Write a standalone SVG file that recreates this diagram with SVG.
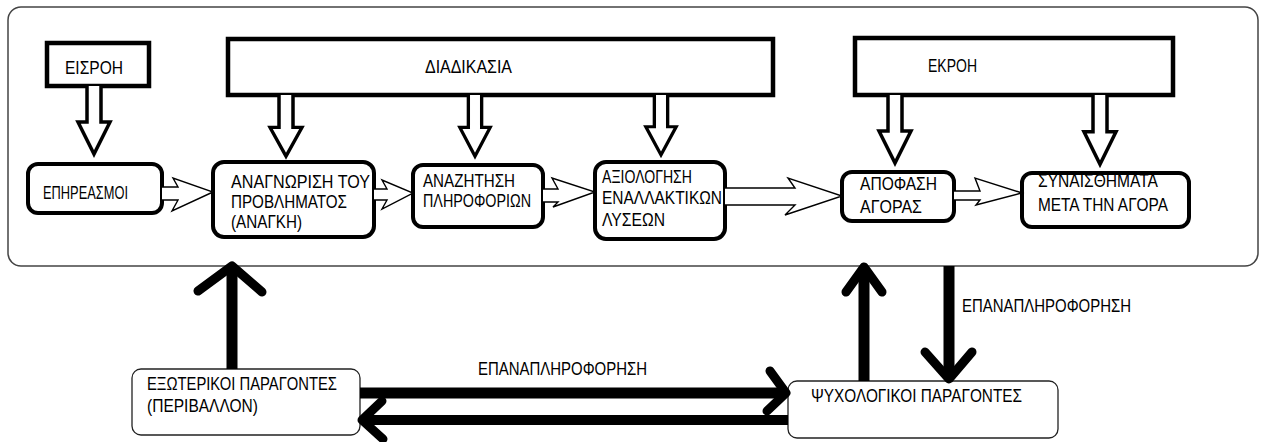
<svg xmlns="http://www.w3.org/2000/svg" width="1265" height="442" viewBox="0 0 1265 442">
  <style>
    text { font-family: "Liberation Sans", Arial, sans-serif; font-size: 18px; fill: #000; }
    .frame { fill: #fff; stroke: #444; stroke-width: 1.5; }
    .head { fill: #fff; stroke: #000; stroke-width: 4.5; }
    .step { fill: #fff; stroke: #000; stroke-width: 4; }
    .factor { fill: #fff; stroke: #222; stroke-width: 1.3; }
    .hollow { fill: #fff; stroke: #000; stroke-width: 3.5; stroke-linejoin: miter; }
    .thin { fill: #fff; stroke: #000; stroke-width: 1.4; stroke-linejoin: miter; }
    .bar { stroke: #000; stroke-width: 11; fill: none; }
    .tip { stroke: #000; stroke-width: 9; fill: none; stroke-linecap: round; stroke-linejoin: round; }
  </style>
  <defs>
    <!-- hollow down arrow: shaft 14 wide, head 32 wide -->
    <path id="dn" d="M-7,0 V36 H-16 L0,68 L16,36 H7 V0"/>
  </defs>

  <rect width="1265" height="442" fill="#fff"/>

  <!-- enclosing process frame -->
  <rect id="frame" class="frame" x="8" y="7" width="1250" height="259" rx="13"/>

  <!-- header boxes -->
  <g id="input">
    <rect class="head" x="47" y="43" width="102" height="43"/>
    <text x="65" y="74" textLength="58" lengthAdjust="spacingAndGlyphs">ΕΙΣΡΟΗ</text>
  </g>
  <g id="process">
    <rect class="head" x="228" y="39" width="545" height="56"/>
    <text x="425" y="73" textLength="87" lengthAdjust="spacingAndGlyphs">ΔΙΑΔΙΚΑΣΙΑ</text>
  </g>
  <g id="output">
    <rect class="head" x="855" y="38" width="318" height="57"/>
    <text x="928" y="72" textLength="49" lengthAdjust="spacingAndGlyphs">ΕΚΡΟΗ</text>
  </g>

  <!-- process steps -->
  <g id="influences">
    <rect class="step" x="28" y="164" width="134" height="49" rx="10"/>
    <text x="43" y="199" textLength="85" lengthAdjust="spacingAndGlyphs">ΕΠΗΡΕΑΣΜΟΙ</text>
  </g>
  <g id="recognition">
    <rect class="step" x="213" y="162" width="161" height="75" rx="11"/>
    <text x="231" y="188" textLength="139" lengthAdjust="spacingAndGlyphs">ΑΝΑΓΝΩΡΙΣΗ ΤΟΥ</text>
    <text x="231" y="208" textLength="116" lengthAdjust="spacingAndGlyphs">ΠΡΟΒΛΗΜΑΤΟΣ</text>
    <text x="231" y="228" textLength="71" lengthAdjust="spacingAndGlyphs">(ΑΝΑΓΚΗ)</text>
  </g>
  <g id="search">
    <rect class="step" x="413" y="165" width="130" height="62" rx="10"/>
    <text x="423" y="187" textLength="92" lengthAdjust="spacingAndGlyphs">ΑΝΑΖΗΤΗΣΗ</text>
    <text x="423" y="207" textLength="108" lengthAdjust="spacingAndGlyphs">ΠΛΗΡΟΦΟΡΙΩΝ</text>
  </g>
  <g id="evaluation">
    <rect class="step" x="595" y="162" width="130" height="77" rx="11"/>
    <text x="602" y="183" textLength="90" lengthAdjust="spacingAndGlyphs">ΑΞΙΟΛΟΓΗΣΗ</text>
    <text x="602" y="204" textLength="120" lengthAdjust="spacingAndGlyphs">ΕΝΑΛΛΑΚΤΙΚΩΝ</text>
    <text x="602" y="226" textLength="63" lengthAdjust="spacingAndGlyphs">ΛΥΣΕΩΝ</text>
  </g>
  <g id="decision">
    <rect class="step" x="842" y="172" width="112" height="49" rx="10"/>
    <text x="860" y="190" textLength="77" lengthAdjust="spacingAndGlyphs">ΑΠΟΦΑΣΗ</text>
    <text x="860" y="213" textLength="62" lengthAdjust="spacingAndGlyphs">ΑΓΟΡΑΣ</text>
  </g>
  <g id="feelings">
    <rect class="step" x="1022" y="173" width="167" height="54" rx="10"/>
    <text x="1038" y="187" textLength="120" lengthAdjust="spacingAndGlyphs">ΣΥΝΑΙΣΘΗΜΑΤΑ</text>
    <text x="1038" y="211" textLength="130" lengthAdjust="spacingAndGlyphs">ΜΕΤΑ ΤΗΝ ΑΓΟΡΑ</text>
  </g>

  <!-- influencing factors -->
  <g id="external">
    <rect class="factor" x="132" y="369" width="228" height="66" rx="9"/>
    <text x="147" y="390" textLength="190" lengthAdjust="spacingAndGlyphs">ΕΞΩΤΕΡΙΚΟΙ ΠΑΡΑΓΟΝΤΕΣ</text>
    <text x="147" y="412" textLength="111" lengthAdjust="spacingAndGlyphs">(ΠΕΡΙΒΑΛΛΟΝ)</text>
  </g>
  <g id="psychological">
    <rect class="factor" x="788" y="381" width="270" height="57" rx="9"/>
    <text x="811" y="402" textLength="211" lengthAdjust="spacingAndGlyphs">ΨΥΧΟΛΟΓΙΚΟΙ ΠΑΡΑΓΟΝΤΕΣ</text>
  </g>

  <g id="connectors">
    <!-- hollow arrows from the header boxes -->
    <use href="#dn" class="hollow" transform="translate(94,86)"/>
    <use href="#dn" class="hollow" transform="translate(286,95) scale(1,0.9)"/>
    <use href="#dn" class="hollow" transform="translate(475,95) scale(0.95,0.9)"/>
    <use href="#dn" class="hollow" transform="translate(661,95) scale(0.95,0.88)"/>
    <use href="#dn" class="hollow" transform="translate(895,95) scale(1,1)"/>
    <use href="#dn" class="hollow" transform="translate(1100,95) scale(1,1.02)"/>

    <!-- thin double-line arrows between steps -->
    <polyline class="thin" points="162,187 178,187 173,178 213,192 172,211 178,200 162,200"/>
    <polyline class="thin" points="374,189 387,189 382,180 413,193 382,209 387,200 374,200"/>
    <polyline class="thin" points="543,189 558,189 552,178 595,192 553,207 558,202 543,202"/>
    <polyline class="thin" points="725,188 795,188 788,178 842,196 785,215 795,205 725,205"/>
    <polyline class="thin" points="954,191 980,191 975,178 1022,193 976,205 980,200 954,200"/>

    <!-- external factors up to the process -->
    <line class="bar" x1="232" y1="369" x2="232" y2="272"/>
    <polyline class="tip" points="198,291 232,266 262,292"/>

    <!-- external to psychological -->
    <line class="bar" x1="360" y1="393" x2="782" y2="393"/>
    <polyline class="tip" points="770,371 786,393 767,411"/>
    <!-- psychological back to external -->
    <line class="bar" x1="788" y1="420" x2="366" y2="420" style="stroke-width:10"/>
    <polyline class="tip" points="382,401 362,420 383,439"/>

    <!-- psychological up to the process -->
    <line class="bar" x1="864" y1="381" x2="864" y2="272"/>
    <polyline class="tip" points="846,292 864,267 882,292"/>
    <!-- feedback down to psychological -->
    <line class="bar" x1="949" y1="266" x2="949" y2="375"/>
    <polyline class="tip" points="925,352 949,379 972,352"/>

    <text x="478" y="375" textLength="169" lengthAdjust="spacingAndGlyphs">ΕΠΑΝΑΠΛΗΡΟΦΟΡΗΣΗ</text>
    <text x="962" y="312" textLength="169" lengthAdjust="spacingAndGlyphs">ΕΠΑΝΑΠΛΗΡΟΦΟΡΗΣΗ</text>
  </g>
</svg>
